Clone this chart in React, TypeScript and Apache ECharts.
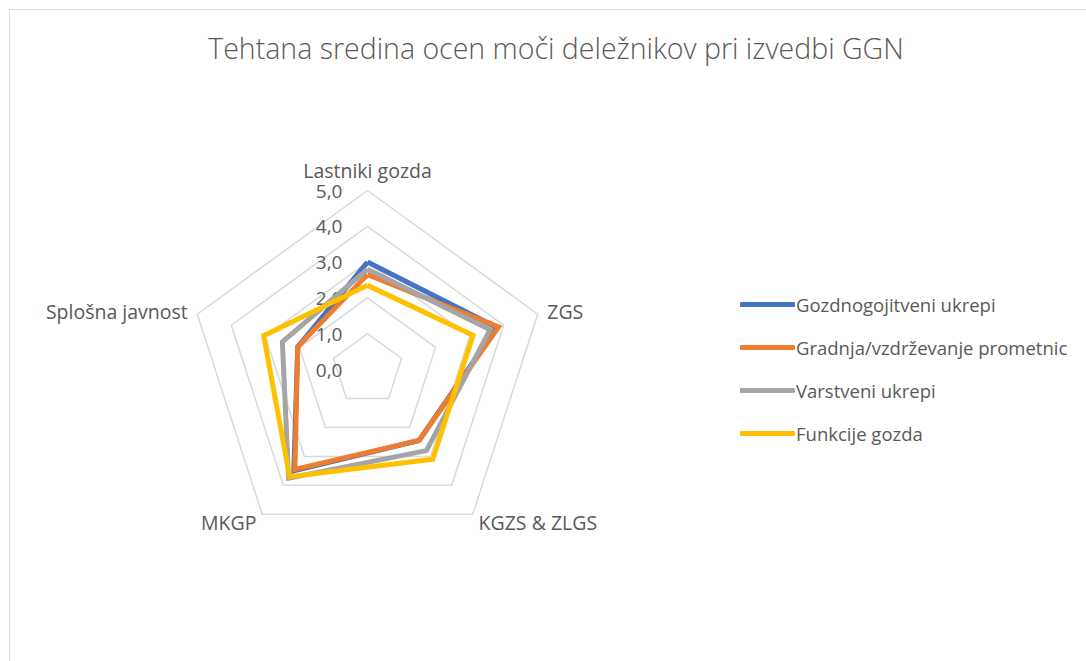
import React, { useEffect, useRef } from "react";
import * as echarts from "echarts";

const title = "Tehtana sredina ocen moči deležnikov pri izvedbi GGN";
// Categories in the order Excel lists them (clockwise from top)
const categories = ["Lastniki gozda", "ZGS", "KGZS & ZLGS", "MKGP", "Splošna javnost"];
const seriesNames = [
  "Gozdnogojitveni ukrepi",
  "Gradnja/vzdrževanje prometnic",
  "Varstveni ukrepi",
  "Funkcije gozda",
];
const gozdnogojitveni = [3.0, 3.8, 2.45, 3.5, 2.05];
const gradnja = [2.65, 3.85, 2.45, 3.45, 2.05];
const varstveni = [2.8, 3.6, 2.8, 3.75, 2.5];
const funkcije = [2.35, 3.1, 3.1, 3.7, 3.05];
const axisMin = 0;
const axisMax = 5;
const axisStep = 1;
const colors = ["#4472C4", "#ED7D31", "#A5A5A5", "#FFC000"];

const FONT = "'Open Sans', 'Noto Sans', sans-serif";

export default function App() {
  const ref = useRef<HTMLDivElement>(null);
  useEffect(() => {
    if (!ref.current) return;
    const chart = echarts.init(ref.current, null, { renderer: "svg" });
    // ECharts places radar indicators counter-clockwise; reorder to keep Excel's clockwise layout
    const order = [0, 4, 3, 2, 1];
    const reorder = (arr: any[]) => order.map((i) => arr[i]);
    const all = [gozdnogojitveni, gradnja, varstveni, funkcije];
    const center = [367.5, 369.5];
    const radius = 179;
    chart.setOption({
      animation: false,
      color: colors,
      title: {
        text: title,
        left: 551,
        top: 28,
        textAlign: "center",
        textStyle: { fontFamily: FONT, fontSize: 28.5, fontWeight: 300, color: "#595959" },
      },
      legend: {
        orient: "vertical",
        left: 735,
        top: 287,
        icon: "roundRect",
        itemWidth: 55,
        itemHeight: 5,
        itemGap: 18,
        data: seriesNames,
        textStyle: {
          fontFamily: FONT,
          fontSize: 18.5,
          lineHeight: 25,
          color: "#595959",
          padding: [0, 0, 0, -4],
        },
      },
      graphic: [
        {
          type: "rect",
          shape: { x: 9.5, y: 9.5, width: 1090, height: 700 },
          style: { fill: "none", stroke: "#D9D9D9", lineWidth: 1 },
          silent: true,
        },
      ],
      radar: {
        center,
        radius,
        startAngle: 90,
        splitNumber: 5,
        shape: "polygon",
        indicator: reorder(categories).map((name: string) => ({ name, min: axisMin, max: axisMax })),
        axisName: {
          color: "#595959",
          fontFamily: FONT,
          fontSize: 19.5,
        },
        nameGap: 10,
        axisLine: { show: false },
        axisTick: { show: false },
        splitArea: { show: false },
        splitLine: { lineStyle: { color: "#D9D9D9", width: 1.5 } },
      },
      polar: { center, radius },
      angleAxis: { show: false, startAngle: 90, min: 0, max: 360 },
      radiusAxis: {
        min: axisMin,
        max: axisMax,
        interval: axisStep,
        axisLine: { show: false },
        axisTick: { show: false },
        splitLine: { show: false },
        axisLabel: {
          fontFamily: FONT,
          fontSize: 19,
          color: "#595959",
          margin: 25,
          formatter: (v: number) => v.toFixed(1).replace(".", ","),
        },
      },
      series: [
        {
          type: "radar",
          symbol: "none",
          data: all.map((vals, i) => ({
            name: seriesNames[i],
            value: reorder(vals),
            lineStyle: { color: colors[i], width: 5, join: "miter" },
            itemStyle: { color: colors[i] },
          })),
        },
      ],
    });
    return () => chart.dispose();
  }, []);
  return (
    <div
      ref={ref}
      style={{ position: "fixed", left: 0, top: 0, width: 1086, height: 661, background: "#fff" }}
    />
  );
}
